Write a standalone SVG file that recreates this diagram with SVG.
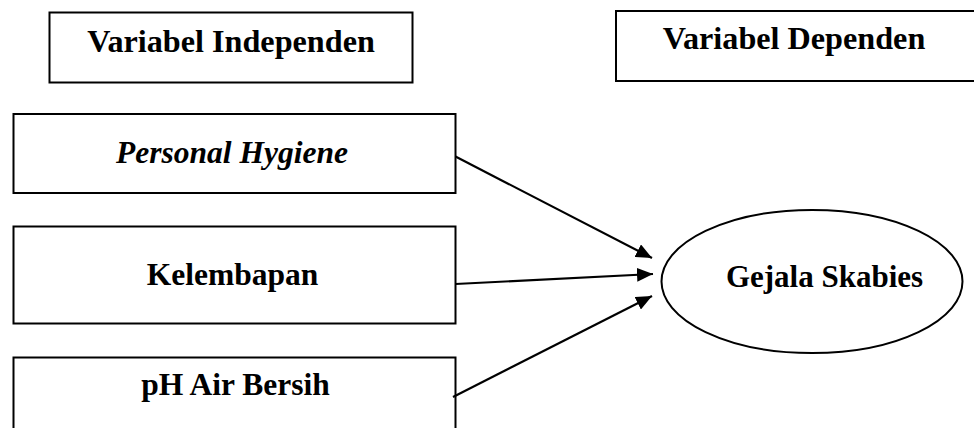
<svg xmlns="http://www.w3.org/2000/svg" width="974" height="428" viewBox="0 0 974 428">
<style>
.box{fill:#fff;stroke:#000;stroke-width:2}
.t{font-weight:bold;font-size:31.5px;fill:#000;text-anchor:middle}
.h{font-size:32.2px}
.it{font-style:italic}
.conn{stroke:#000;stroke-width:2.2;fill:none}
</style>
<defs>
<marker id="ah" viewBox="0 0 16 14" refX="16" refY="7" markerWidth="16" markerHeight="14" orient="auto" markerUnits="userSpaceOnUse">
<path d="M0,0 L16,7 L0,14 z" fill="#000"/>
</marker>
</defs>
<rect width="974" height="428" fill="#fff"/>
<g font-family="Liberation Serif, Times New Roman, Tinos, DejaVu Serif, serif">
<g id="hdr-indep">
<rect class="box" x="49.5" y="12.5" width="363" height="70"/>
<text class="t h" x="231" y="52">Variabel Independen</text>
</g>
<g id="hdr-dep">
<rect class="box" x="616" y="11" width="380" height="70"/>
<text class="t h" x="794" y="49">Variabel Dependen</text>
</g>
<g id="personal-hygiene">
<rect class="box" x="13.5" y="114" width="442" height="79"/>
<text class="t it" x="232" y="163">Personal Hygiene</text>
</g>
<g id="kelembapan">
<rect class="box" x="13.5" y="226.5" width="442" height="97"/>
<text class="t" x="232.5" y="285">Kelembapan</text>
</g>
<g id="ph">
<rect class="box" x="13.5" y="357.5" width="442" height="90"/>
<text class="t" x="235.5" y="395">pH Air Bersih</text>
</g>
<g id="gejala">
<ellipse class="box" cx="812" cy="281.5" rx="150.5" ry="71.5"/>
<text class="t" x="824.5" y="286.5" style="font-size:31px">Gejala Skabies</text>
</g>
</g>
<g id="connectors">
<line class="conn" x1="455.5" y1="156.5" x2="652" y2="258" marker-end="url(#ah)"/>
<line class="conn" x1="455.5" y1="284" x2="653" y2="274" marker-end="url(#ah)"/>
<line class="conn" x1="453" y1="397" x2="652" y2="296" marker-end="url(#ah)"/>
</g>
</svg>
